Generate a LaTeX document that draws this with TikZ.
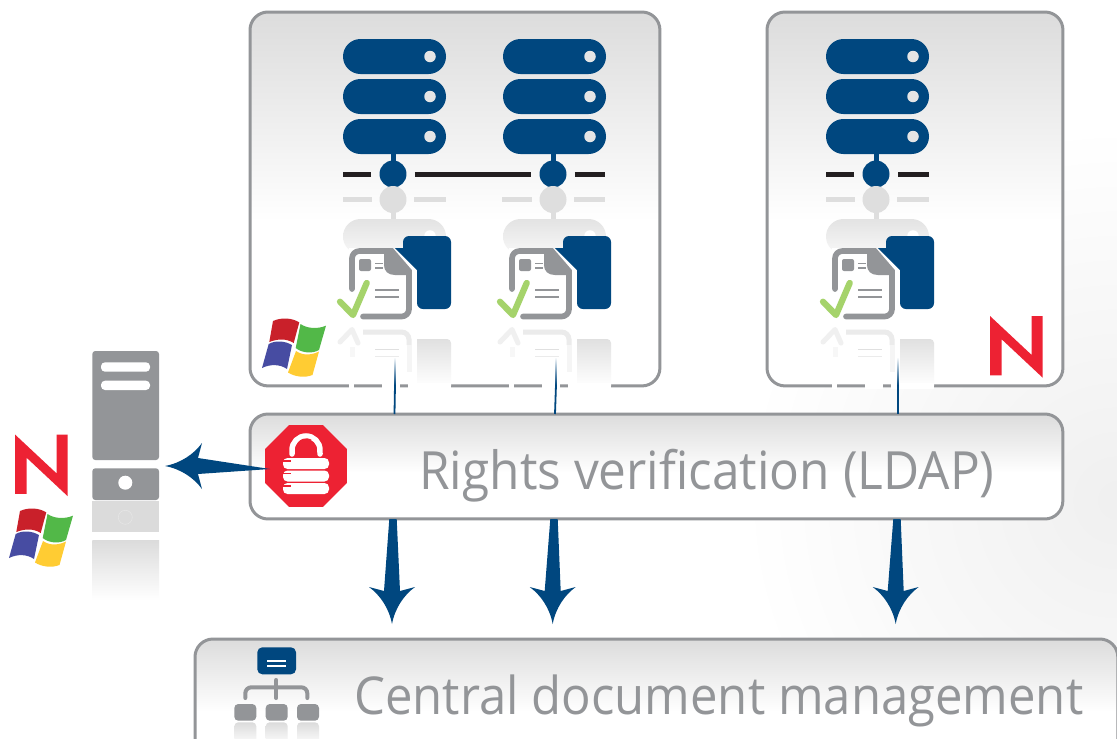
\documentclass[tikz,border=0pt]{standalone}
\usepackage{fontspec}
\setmainfont{Open Sans}
\newfontfamily\labelfont[FakeStretch=0.94]{Open Sans}
\usetikzlibrary{calc,shapes.geometric}

\definecolor{rackblue}{HTML}{00477F}
\definecolor{framegray}{HTML}{939598}
\definecolor{brandred}{HTML}{ED2233}
\definecolor{shadegray}{HTML}{DCDCDC}
\definecolor{ghostgray}{HTML}{DEDEDE}
\definecolor{checkgreen}{HTML}{A5D36B}
\definecolor{busblack}{HTML}{231F20}

\pgfdeclareverticalshading{panelshade}{100bp}{color(0bp)=(white); color(47bp)=(white); color(75bp)=(shadegray); color(100bp)=(shadegray)}

\tikzset{
  panel/.style={draw=framegray,line width=0.06cm,rounded corners=0.36cm,shading=panelshade,
    anchor=north west,inner sep=0pt,outer sep=0pt},
  biglabel/.style={anchor=base west,text=framegray,font=\labelfont\fontsize{30}{30}\selectfont,inner sep=0pt},
  busline/.style={draw=busblack,line width=0.1cm},
  ghostbar/.style={draw=ghostgray,line width=0.1cm},
  busnode/.style={circle,fill=rackblue,minimum size=0.54cm,inner sep=0pt,outer sep=0.17cm},
  feedline/.style={draw=rackblue,line width=0.036cm},
  flowfill/.style={fill=rackblue},
  docline/.style={draw=framegray,line width=0.114cm,line cap=round},
  % stack of three racks with its bus point, reflection, document and folder
  serverunit/.pic={
    \foreach \y in {39,79,119} {
      \fill[rackblue,rounded corners=0.35cm] (0,\y) rectangle (103,\y+35);
      \fill[black!10] (87,\y+17.5) circle (0.115cm);
    }
    \fill[rackblue] (48,154) rectangle (52.5,162);
    \node[busnode] (-bus) at (50,174) {};
    % reflection of the racks
    \fill[ghostgray] (50,199.5) circle (0.27cm);
    \fill[ghostgray] (48,211) rectangle (52.5,219);
    \shade[top color=black!11,bottom color=black!3,rounded corners=0.35cm] (0,219) rectangle (103,254);
    \fill[white] (87,236) circle (0.115cm);
    % folder
    \fill[rackblue] (52,248) -- (60,248) [rounded corners=0.12cm] -- (60,236) -- (108,236)
      -- (108,309) -- (74,309) [sharp corners] -- (74,270) -- cycle;
    % document
    \fill[white] (6,248) -- (50,248) -- (71,271) -- (71,320) -- (6,320) -- cycle;
    \draw[docline,rounded corners=0.15cm] (9,289) -- (9,251) -- (44,251);
    \draw[docline,rounded corners=0.15cm] (66,272) -- (66,316.5) -- (20,316.5);
    \fill[framegray] (41,248.2) -- (50,248.2) -- (68.8,270) -- (68.8,275) -- (52,275)
      .. controls (45,275) and (41,271) .. (41,265) -- cycle;
    \fill[framegray,rounded corners=0.04cm] (16,259) rectangle (28,271);
    \draw[framegray,line width=0.034cm] (32,263.5) -- (40,263.5) (32,268) -- (40,268);
    \draw[framegray,line width=0.044cm] (32,290) -- (56,290) (32,297) -- (56,297);
    \draw[checkgreen,line width=0.125cm,line cap=round,line join=round] (-3,301.7) -- (10,315) -- (23.7,283);
    % reflection of document and folder
    \shade[top color=black!12,bottom color=white] (74,339) -- (104,339) arc (90:0:0.08cm) -- (108,386) -- (74,386) -- cycle;
    \draw[black!6,line width=0.1cm,line cap=round,line join=round] (-3,342) -- (9,329.5) -- (15,343);
    \draw[black!3,line width=0.1cm] (9,347) -- (9,357);
    \draw[black!8,line width=0.1cm,rounded corners=0.15cm] (20,332) -- (66,332) -- (66,345);
    \draw[black!4,line width=0.1cm] (66,345) -- (66,372);
    \draw[black!12,line width=0.034cm] (32,349.5) -- (56,349.5);
    \draw[black!8,line width=0.034cm] (32,356.5) -- (56,356.5);
    % the reflection wipes the frame below it
    \fill[white] (6,383) rectangle (11,389);
    \fill[white] (39,383) rectangle (57,389);
    \fill[white] (65,383) rectangle (108,389);
  },
  winlogo/.pic={
    \fill[fill={rgb,255:red,201;green,32;blue,42}] (11,3) .. controls (20,-1) and (30,0) .. (37.3,4.3)
      -- (31.7,25) .. controls (24,20) and (15,21) .. (7.3,24) -- cycle;
    \fill[fill={rgb,255:red,82;green,184;blue,72}] (38.5,6) .. controls (46,11) and (56,11) .. (64,7.7)
      -- (57,32) .. controls (50,36) and (40,35) .. (33.7,30) -- cycle;
    \fill[fill={rgb,255:red,71;green,76;blue,162}] (6.7,26) .. controls (14,22) and (23,23) .. (30,27)
      -- (25,51) .. controls (18,46) and (8,46) .. (0,50) -- cycle;
    \fill[fill={rgb,255:red,255;green,204;blue,51}] (34,33) .. controls (41,38) and (50,37) .. (57,33.5)
      -- (50.5,57) .. controls (43,60) and (33,59) .. (26,54.5) -- cycle;
  },
  nlogo/.pic={
    \fill[brandred] (0,59.3) -- (0,0) -- (41.7,39) -- (41.7,0) -- (52.7,0) -- (52.7,61.7)
      -- (11.7,23.3) -- (11.7,59.3) -- cycle;
  }
}

\newcommand{\flowdown}[2]{
  \fill[flowfill] ($(#1)+(-3.7,0)$) -- ($(#2)+(-8,-33)$) -- ($(#2)+(-23,-37)$)
    .. controls ($(#2)+(-12,-29)$) and ($(#2)+(-3,-16)$) .. (#2)
    .. controls ($(#2)+(3,-16)$) and ($(#2)+(12,-29)$) .. ($(#2)+(23,-37)$)
    -- ($(#2)+(8,-33)$) -- ($(#1)+(3.7,0)$) -- cycle;
}
\newcommand{\feeddown}[3]{
  \shade[top color=white,bottom color=rackblue] ($(#1)+(-0.9,0)$) rectangle ($(#2)+(0.9,0)$);
  \draw[feedline] (#2) -- (#3);
}

\begin{document}
\begin{tikzpicture}[x=0.02cm,y=-0.02cm]

    \clip (0,0) rectangle (1117,738);
    \fill[white] (0,0) rectangle (1117,738);

    % faint background glow
    \shade[inner color=black!6,outer color=white] (1117,500) circle (7.5cm);

    % panels
    \node[panel,minimum width=8.2cm,minimum height=7.48cm] (winbox) at (250,12) {};
    \node[panel,minimum width=5.92cm,minimum height=7.48cm] (novellbox) at (767,12) {};
    \node[panel,minimum width=16.26cm,minimum height=2.1cm] (ldapbox) at (250,414) {};
    \node[panel,minimum width=18.46cm,minimum height=2.6cm] (docbox) at (195,639) {};

    % servers and documents
    \pic (unitA) at (343,0) {serverunit};
    \pic (unitB) at (503,0) {serverunit};
    \pic (unitC) at (826,0) {serverunit};

    % bus
    \coordinate (busAend) at (343,174);
    \coordinate (busBend) at (605,174);
    \coordinate (busCleft) at (826,174);
    \coordinate (busCright) at (929,174);
    \draw[busline] (unitA-bus) -- (busAend);
    \draw[busline] (unitA-bus) -- (unitB-bus);
    \draw[busline] (unitB-bus) -- (busBend);
    \draw[busline] (unitC-bus) -- (busCleft);
    \draw[busline] (unitC-bus) -- (busCright);

    % reflection of the bus
    \draw[ghostbar] (343,199.6) -- (372,199.6) (414,199.6) -- (446,199.6);
    \draw[ghostbar] (502,199.6) -- (532,199.6) (574,199.6) -- (605,199.6);
    \draw[ghostbar] (826,199.6) -- (855,199.6) (897,199.6) -- (929,199.6);

    % logos in the panels
    \pic (winA) at (262,318) {winlogo};
    \pic (novellA) at (990,316) {nlogo};

    % thin lines down to the rights check
    \coordinate (feedAtop) at (395,357);
    \coordinate (feedAmid) at (395,385);
    \coordinate (feedAend) at (394.5,414);
    \feeddown{feedAtop}{feedAmid}{feedAend}
    \coordinate (feedBtop) at (556,357);
    \coordinate (feedBmid) at (556,385);
    \coordinate (feedBend) at (555,414);
    \feeddown{feedBtop}{feedBmid}{feedBend}
    \coordinate (feedCtop) at (898,357);
    \coordinate (feedCmid) at (898,385);
    \coordinate (feedCend) at (898,414);
    \feeddown{feedCtop}{feedCmid}{feedCend}

    % lock
    \node[regular polygon,regular polygon sides=8,fill=brandred,minimum size=1.775cm,inner sep=0pt,outer sep=0pt] (lock) at (306,466) {};
    \draw[white,line width=0.11cm,line cap=round] (292,454) -- (292,450) arc (180:0:0.28cm) -- (320,454);
    \draw[brandred,line width=0.02cm] (296.5,447) arc (170:60:0.2cm);
    \foreach \y in {458,470.5,483} {
      \fill[white,rounded corners=0.09cm] (283,\y) rectangle (329,\y+11);
      \draw[brandred,line width=0.024cm] (283,\y+3) -- (291,\y+3);
    }

    % rights label
    \node[biglabel] (ldaplabel) at (419,489) {Rights verification (LDAP)};

    % arrow to the directory server
    \coordinate (lockout) at (270,469);
    \coordinate (dirin) at (165,466);
    \fill[flowfill] (lockout) -- (198,458) -- (202,443)
      .. controls (194,454) and (181,463) .. (dirin)
      .. controls (181,469) and (194,478) .. (202,489) -- (198,474) -- cycle;

    % directory server
    \fill[framegray,rounded corners=0.06cm] (92.3,351) -- (159,351) -- (159,460) -- (92.3,460) -- cycle;
    \fill[white,rounded corners=0.08cm] (101,362.3) rectangle (150,371.7);
    \fill[white,rounded corners=0.08cm] (101,380.7) rectangle (150,390);
    \fill[framegray,rounded corners=0.06cm] (92.3,468.3) -- (159,468.3) -- (159,500) -- (92.3,500) -- cycle;
    \fill[white] (125.3,482.7) circle (0.14cm);
    \fill[black!14] (92.3,501) rectangle (159,531.7);
    \draw[black!10,line width=0.012cm] (125.3,517.3) circle (0.14cm);
    \shade[top color=black!14,bottom color=white] (92.3,540) rectangle (159,600);

    % logos next to the server
    \pic (novellB) at (15,434.5) {nlogo};
    \pic (winB) at (9,508) {winlogo};

    % arrows down to document management
    \coordinate (ldapA) at (393,519);
    \coordinate (cdmA) at (392,624);
    \flowdown{ldapA}{cdmA}
    \coordinate (ldapB) at (554,519);
    \coordinate (cdmB) at (552.7,624);
    \flowdown{ldapB}{cdmB}
    \coordinate (ldapC) at (897,519);
    \coordinate (cdmC) at (895.7,624);
    \flowdown{ldapC}{cdmC}

    % tree icon
    \fill[rackblue,rounded corners=0.1cm] (257.3,647.3) rectangle (296,674.3);
    \draw[white,line width=0.04cm] (267.3,661) -- (286,661) (267.3,666) -- (286,666);
    \draw[framegray,line width=0.08cm,line cap=round] (276.3,680) -- (276.3,698);
    \draw[framegray,line width=0.08cm,line cap=round,rounded corners=0.12cm] (245.3,698) -- (245.3,687.3) -- (307.3,687.3) -- (307.3,698);
    \foreach \x in {234.3,265.7,297} {
      \fill[framegray,rounded corners=0.08cm] (\x,704) rectangle (\x+22,720.7);
      \shade[top color=black!14,bottom color=white,rounded corners=0.08cm] (\x,722.3) rectangle (\x+22,745);
    }

    % document label
    \node[biglabel,font=\labelfont\fontsize{29.7}{30}\selectfont] (cdmlabel) at (354,714) {Central document management};

\end{tikzpicture}
\end{document}
